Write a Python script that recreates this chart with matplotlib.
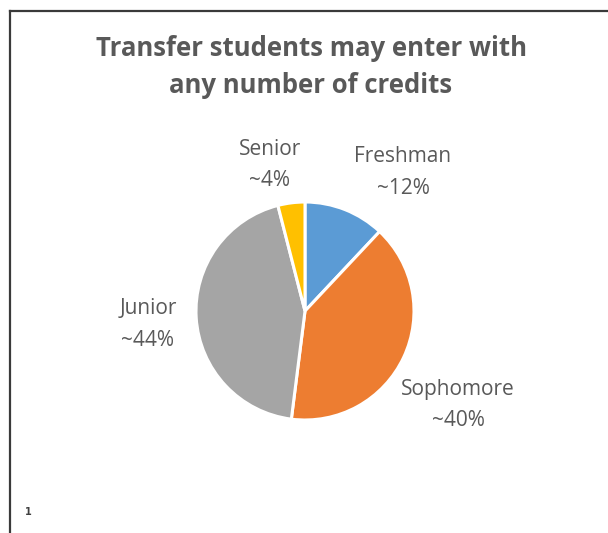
import matplotlib
matplotlib.use("Agg")
import matplotlib.pyplot as plt
from matplotlib.lines import Line2D

# data
categories = ["Freshman", "Sophomore", "Junior", "Senior"]
shares = [12, 40, 44, 4]
share_labels = ["~12%", "~40%", "~44%", "~4%"]
colors = ["#5B9BD5", "#ED7D31", "#A5A5A5", "#FFC000"]

W, H = 608, 533
fig = plt.figure(figsize=(W / 100, H / 100), dpi=100)
fig.patch.set_facecolor("white")

# pie axes placed in pixels: centre (305, 311), radius 109
cx, cy, r = 305, 311, 109
ax = fig.add_axes([(cx - r) / W, (H - cy - r) / H, 2 * r / W, 2 * r / H])
ax.pie(shares, colors=colors, startangle=90, counterclock=False,
       wedgeprops=dict(edgecolor="white", linewidth=2.2))
ax.set_xlim(-1, 1)
ax.set_ylim(-1, 1)
ax.axis("off")

# frame lines (top and left only visible)
fig.add_artist(Line2D([9.5 / W, 1], [1 - 11 / H, 1 - 11 / H], transform=fig.transFigure,
                      color="#3a3a3a", linewidth=1.6))
fig.add_artist(Line2D([9.5 / W, 9.5 / W], [0, 1 - 11 / H], transform=fig.transFigure,
                      color="#3a3a3a", linewidth=1.6))

fig.text(311 / W, 1 - 49 / H, "Transfer students may enter with", ha="center", va="center",
         fontsize=18.5, fontweight="bold", color="#595959", family="Open Sans")
fig.text(311 / W, 1 - 85 / H, "any number of credits", ha="center", va="center",
         fontsize=18.5, fontweight="bold", color="#595959", family="Open Sans")

# label positions (pixel centres of the name line)
label_pos = {"Freshman": (403, 157), "Sophomore": (458, 389), "Junior": (148, 309), "Senior": (270, 150)}
for name, lab in zip(categories, share_labels):
    x, y = label_pos[name]
    fig.text(x / W, 1 - y / H, name, ha="center", va="center", fontsize=15,
             color="#595959", family="Open Sans")
    fig.text(x / W, 1 - (y + 31) / H, lab, ha="center", va="center", fontsize=15,
             color="#595959", family="Open Sans")

fig.text(28 / W, 1 - 512 / H, "1", ha="center", va="center", fontsize=7,
         fontweight="bold", color="#404040")

fig.savefig("out.png", dpi=100, facecolor="white")
